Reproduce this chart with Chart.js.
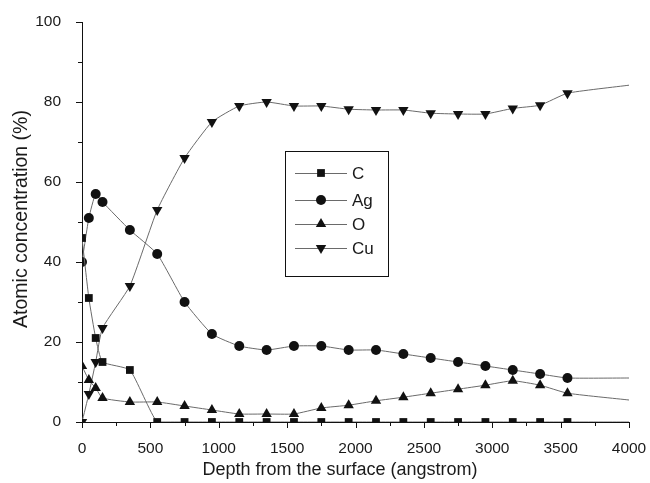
<!DOCTYPE html>
<html lang="en">
<head>
  <meta charset="UTF-8">
  <title>Atomic concentration depth profile</title>
  <script src="https://cdn.jsdelivr.net/npm/chart.js"></script>
  <style>
    html, body { margin: 0; padding: 0; background: #fff; }
    #wrap { width: 650px; height: 483px; }
  </style>
</head>
<body>
  <div id="wrap"><canvas id="profile"></canvas></div>
  <script>
    // depth points (angstrom); last one is only where the fitted line ends
    const depths = [0, 50, 100, 150, 350, 550, 750, 950, 1150, 1350, 1550, 1750, 1950, 2150, 2350, 2550, 2750, 2950, 3150, 3350, 3550, 4000];
    const carbon = [46, 31, 21, 15, 13, 0, 0, 0, 0, 0, 0, 0, 0, 0, 0, 0, 0, 0, 0, 0, 0, 0];
    const silver = [40, 51, 57, 55, 48, 42, 30, 22, 19, 18, 19, 19, 18, 18, 17, 16, 15, 14, 13, 12, 11, 11];
    const oxygen = [14, 10.5, 8.5, 6, 5, 5, 4, 3, 2, 2, 2, 3.5, 4.2, 5.3, 6.2, 7.2, 8.2, 9.2, 10.3, 9.2, 7.2, 5.5];
    const copper = [0, 7, 15, 23.5, 34, 53, 66, 75, 79, 80, 79, 79, 78.2, 78, 78, 77.2, 77, 77, 78.4, 79.2, 82.2, 84.2];
    const names = ['C', 'Ag', 'O', 'Cu'];
    const xTicks = [0, 500, 1000, 1500, 2000, 2500, 3000, 3500, 4000];
    const yTicks = [0, 20, 40, 60, 80, 100];
    const xTitle = 'Depth from the surface (angstrom)';
    const yTitle = 'Atomic concentration (%)';

    const FONT = '"Liberation Sans", Arial, Helvetica, sans-serif';
    const lastIdx = depths.length - 1;

    const toPoints = vals => vals.map((v, i) => ({ x: depths[i], y: v }));

    const series = (label, vals, style, radius, rotation) => ({
      label: label,
      data: toPoints(vals),
      borderColor: '#6a6a6a',
      borderWidth: 1,
      backgroundColor: '#111',
      pointBackgroundColor: '#111',
      pointBorderColor: '#111',
      pointBorderWidth: 0,
      pointStyle: style,
      pointRotation: rotation || 0,
      pointRadius: ctx => ctx.dataIndex === lastIdx ? 0 : radius,
      tension: 0.15
    });

    // minor/major ticks + axis titles drawn by hand, Origin style
    const axisPlugin = {
      id: 'originAxes',
      afterDraw(chart) {
        const ctx = chart.ctx;
        const xs = chart.scales.x, ys = chart.scales.y;
        const x0 = xs.left, yB = ys.bottom;
        ctx.save();
        ctx.strokeStyle = '#111';
        ctx.lineWidth = 1;
        ctx.beginPath();
        for (let v = 0; v <= 4000; v += 250) {
          const px = Math.round(xs.getPixelForValue(v)) + 0.5;
          const len = v % 500 === 0 ? 6 : 4;
          ctx.moveTo(px, yB);
          ctx.lineTo(px, yB + len);
        }
        for (let v = 0; v <= 100; v += 10) {
          const py = Math.round(ys.getPixelForValue(v)) + 0.5;
          const len = v % 20 === 0 ? 6 : 4;
          ctx.moveTo(x0, py);
          ctx.lineTo(x0 - len, py);
        }
        ctx.stroke();

        ctx.fillStyle = '#1a1a1a';
        ctx.textAlign = 'center';
        ctx.textBaseline = 'middle';
        ctx.font = '18px ' + FONT;
        ctx.fillText(xTitle, 340, 470);
        ctx.translate(22, 219);
        ctx.rotate(-Math.PI / 2);
        ctx.font = '19.5px ' + FONT;
        ctx.fillText(yTitle, 0, 0);
        ctx.restore();
      }
    };

    const shape = (ctx, style, x, y, r) => {
      ctx.beginPath();
      if (style === 'rect') {
        const s = r * Math.SQRT1_2;
        ctx.rect(x - s, y - s, 2 * s, 2 * s);
      } else if (style === 'circle') {
        ctx.arc(x, y, r, 0, Math.PI * 2);
      } else if (style === 'up') {
        ctx.moveTo(x, y - r);
        ctx.lineTo(x + r * 0.866, y + r * 0.5);
        ctx.lineTo(x - r * 0.866, y + r * 0.5);
        ctx.closePath();
      } else {
        ctx.moveTo(x, y + r);
        ctx.lineTo(x + r * 0.866, y - r * 0.5);
        ctx.lineTo(x - r * 0.866, y - r * 0.5);
        ctx.closePath();
      }
      ctx.fill();
    };

    const legendPlugin = {
      id: 'boxLegend',
      afterDraw(chart) {
        const ctx = chart.ctx;
        const styles = ['rect', 'circle', 'up', 'down'];
        const radii = [5.5, 5, 6, 6];
        const rowsY = [173, 200, 224, 248];
        ctx.save();
        ctx.strokeStyle = '#111';
        ctx.lineWidth = 1;
        ctx.strokeRect(285.5, 151.5, 103, 125);
        ctx.font = '17px ' + FONT;
        ctx.textBaseline = 'middle';
        names.forEach((n, i) => {
          const y = rowsY[i];
          ctx.strokeStyle = '#6a6a6a';
          ctx.beginPath();
          ctx.moveTo(295, y + 0.5);
          ctx.lineTo(347, y + 0.5);
          ctx.stroke();
          ctx.fillStyle = '#111';
          shape(ctx, styles[i], 321, y, radii[i]);
          ctx.fillStyle = '#1a1a1a';
          ctx.fillText(n, 352, y + 1);
        });
        ctx.restore();
      }
    };

    new Chart(document.getElementById('profile'), {
      type: 'line',
      data: {
        datasets: [
          series(names[0], carbon, 'rect', 5.5),
          series(names[1], silver, 'circle', 5),
          series(names[2], oxygen, 'triangle', 6),
          series(names[3], copper, 'triangle', 6, 180)
        ]
      },
      options: {
        responsive: true,
        maintainAspectRatio: false,
        animation: false,
        layout: { padding: { top: 22, right: 21, left: 0, bottom: 0 } },
        plugins: {
          legend: { display: false },
          tooltip: { enabled: false }
        },
        scales: {
          x: {
            type: 'linear',
            min: 0,
            max: 4000,
            grid: { display: false },
            border: { display: true, color: '#111', width: 1 },
            afterBuildTicks: s => { s.ticks = xTicks.map(v => ({ value: v })); },
            afterFit: s => { s.height = 61; s.paddingLeft = 0; s.paddingRight = 0; },
            ticks: {
              padding: 9,
              maxRotation: 0,
              autoSkip: false,
              color: '#1a1a1a',
              font: { family: FONT, size: 15.5 },
              callback: v => String(v)
            }
          },
          y: {
            min: 0,
            max: 100,
            grid: { display: false },
            border: { display: true, color: '#111', width: 1 },
            afterBuildTicks: s => { s.ticks = yTicks.map(v => ({ value: v })); },
            afterFit: s => { s.width = 82; s.paddingTop = 0; s.paddingBottom = 0; },
            ticks: {
              padding: 13,
              color: '#1a1a1a',
              font: { family: FONT, size: 15.5 },
              callback: v => String(v)
            }
          }
        }
      },
      plugins: [axisPlugin, legendPlugin]
    });
  </script>
</body>
</html>
